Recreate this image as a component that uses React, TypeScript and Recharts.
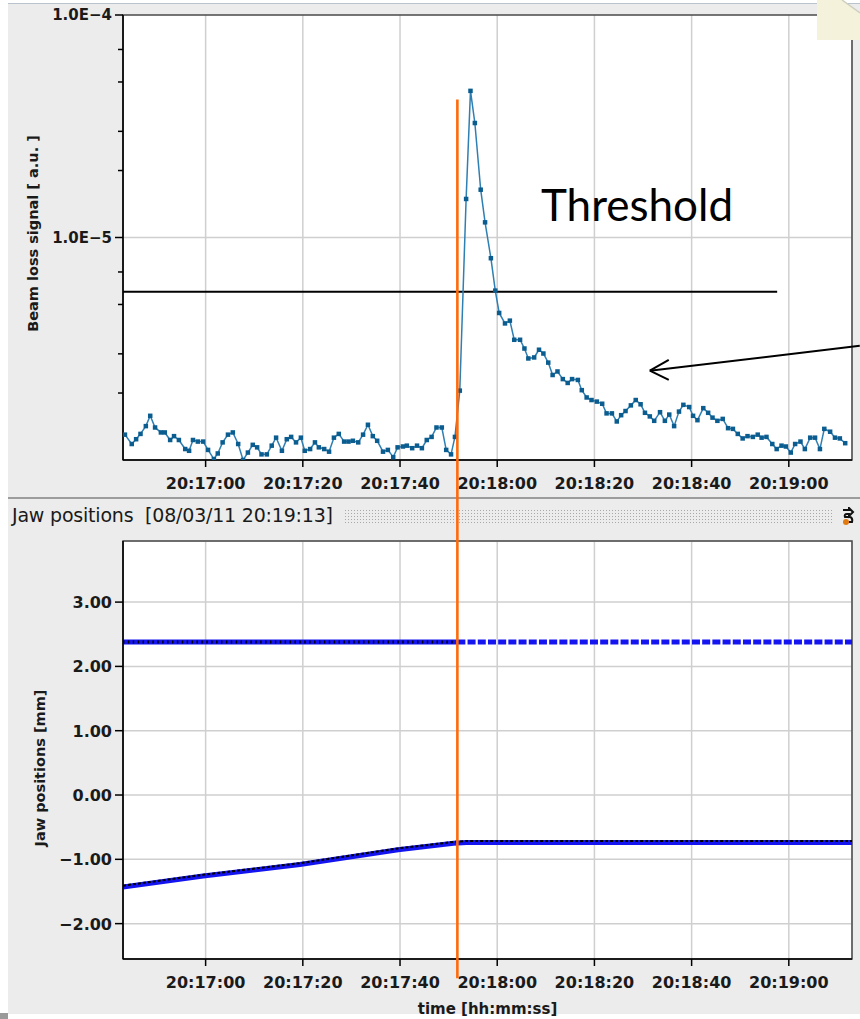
import { LineChart, Line, XAxis, YAxis, CartesianGrid, ReferenceLine, ReferenceArea } from 'recharts';

// time axis: seconds after 20:16:43, window ends 20:19:13
const START_SEC = 20 * 3600 + 16 * 60 + 43;
const SPAN = 150;
const timeTicks = [17, 37, 57, 77, 97, 117, 137];

// beam loss monitor samples (seconds, value in 1e-6 a.u.)
const lossTimes = [
  0.4, 1.8, 2.7, 3.6, 4.7, 5.6, 6.6, 7.8, 8.6, 9.7,
  10.5, 11.5, 12.8, 13.6, 14.4, 15.4, 16.5, 17.5, 18.7, 19.5,
  20.5, 21.6, 22.6, 23.7, 24.7, 25.7, 26.7, 27.6, 28.5, 29.6,
  30.6, 31.5, 32.7, 33.7, 34.6, 35.6, 36.6, 37.4, 38.5, 39.5,
  40.3, 41.4, 42.4, 43.4, 44.4, 45.5, 46.4, 47.3, 48.4, 49.4,
  50.4, 51.4, 52.3, 53.5, 54.5, 55.6, 56.5, 57.6, 58.4, 59.5,
  60.5, 61.5, 62.5, 63.5, 64.5, 65.6, 66.5, 67.5, 68.3,
  69.3, 70.6, 71.5, 72.4, 73.6, 74.5, 75.7, 76.6, 77.4, 78.6,
  79.6, 80.5, 81.7, 82.6, 83.4, 84.6, 85.6, 86.5, 87.5, 88.4,
  89.4, 90.5, 91.5, 92.4, 93.6, 94.4, 95.4, 96.4, 97.5, 98.6,
  99.5, 100.6, 101.6, 102.5, 103.4, 104.5, 105.5, 106.5, 107.4, 108.4,
  109.3, 110.5, 111.5, 112.4, 113.4, 114.4, 115.3, 116.5, 117.3, 118.2,
  119.4, 120.4, 121.3, 122.3, 123.4, 124.5, 125.5, 126.5, 127.5, 128.5,
  129.6, 130.6, 131.4, 132.4, 133.6, 134.5, 135.5, 136.4, 137.4, 138.3,
  139.4, 140.3, 141.4, 142.4, 143.4, 144.3, 145.5, 146.5, 147.5, 148.6,
];
const lossValuesE6 = [
  1.30, 1.18, 1.24, 1.31, 1.42, 1.58, 1.40, 1.33, 1.33, 1.23,
  1.28, 1.23, 1.12, 1.10, 1.23, 1.21, 1.21, 1.11, 1.01, 1.07,
  1.20, 1.30, 1.33, 1.18, 1.00, 1.08, 1.17, 1.14, 1.06, 1.06,
  1.16, 1.26, 1.10, 1.24, 1.27, 1.20, 1.26, 1.10, 1.12, 1.20,
  1.14, 1.12, 1.09, 1.26, 1.31, 1.21, 1.21, 1.22, 1.20, 1.30,
  1.44, 1.28, 1.22, 1.09, 1.11, 1.03, 1.14, 1.15, 1.16, 1.13,
  1.16, 1.13, 1.23, 1.27, 1.40, 1.40, 1.11, 1.06, 1.27,
  2.05, 14.9, 45.6, 32.7, 16.4, 11.7, 8.07, 5.77, 4.58, 4.11,
  4.23, 3.47, 3.47, 3.17, 2.86, 2.89, 3.13, 3.01, 2.74, 2.41,
  2.50, 2.31, 2.22, 2.31, 2.29, 2.06, 1.91, 1.86, 1.83, 1.79,
  1.62, 1.62, 1.49, 1.59, 1.66, 1.76, 1.86, 1.78, 1.63, 1.57,
  1.50, 1.64, 1.50, 1.60, 1.42, 1.65, 1.77, 1.73, 1.58, 1.51,
  1.71, 1.63, 1.55, 1.50, 1.53, 1.39, 1.38, 1.31, 1.25, 1.28,
  1.27, 1.30, 1.26, 1.27, 1.18, 1.12, 1.16, 1.15, 1.08, 1.18,
  1.21, 1.12, 1.26, 1.26, 1.12, 1.38, 1.34, 1.26, 1.25, 1.19,
];
const lossTicks = [
  2e-6, 3e-6, 4e-6, 5e-6, 6e-6, 7e-6, 8e-6, 9e-6, 1e-5,
  2e-5, 3e-5, 4e-5, 5e-5, 6e-5, 7e-5, 8e-5, 9e-5, 1e-4,
];
const THRESHOLD = 5.7e-6;
const THRESHOLD_END = 134.6;

// arrow pointing at the decay tail: [t, value] pairs
const arrowShaft = [[108.4, 2.52e-6], [151.6, 3.26e-6]];
const arrowBarbs = [[112.3, 2.82e-6], [112.3, 2.29e-6]];

// collimator jaw positions (mm)
const upperJawTimes = [0, 68.8, 150];
const upperJawPos = [2.38, 2.38, 2.38];
const lowerJawTimes = [0, 16.5, 36.4, 56.6, 68, 70.7, 150];
const lowerJawPos = [-1.43, -1.26, -1.08, -0.85, -0.75, -0.74, -0.74];
const lowerJawSet = [-1.41, -1.24, -1.06, -0.83, -0.73, -0.715, -0.715];
const jawTicks = [-2, -1, 0, 1, 2, 3];

// moment the jaw movement stopped
const EVENT_T = 68.8;
const EVENT_TOP = 4.17e-5;
const EVENT_BOTTOM = -2.85;

const FONT = '"DejaVu Sans", Verdana, sans-serif';
const PLOT_LEFT = 123;
const PLOT_RIGHT = 852;
const TOP_PLOT = [15, 460];
const BOT_PLOT = [541, 959];
const LOSS_DOMAIN = [1e-6, 1e-4];
const JAW_DOMAIN = [-2.55, 3.95];

const lossData = lossTimes.map((t, i) => ({ t, v: lossValuesE6[i] * 1e-6 }));
const upperJaw = upperJawTimes.map((t, i) => ({ t, v: upperJawPos[i] }));
const upperBefore = upperJaw.filter((d) => d.t <= EVENT_T);
const upperAfter = upperJaw.filter((d) => d.t >= EVENT_T);
const lowerJaw = lowerJawTimes.map((t, i) => ({ t, v: lowerJawPos[i], s: lowerJawSet[i] }));

const xPix = (t: number) => PLOT_LEFT + (t / SPAN) * (PLOT_RIGHT - PLOT_LEFT);
const lossPix = (v: number) =>
  TOP_PLOT[0] +
  ((Math.log10(LOSS_DOMAIN[1]) - Math.log10(v)) / (Math.log10(LOSS_DOMAIN[1]) - Math.log10(LOSS_DOMAIN[0]))) *
    (TOP_PLOT[1] - TOP_PLOT[0]);
const jawPix = (v: number) =>
  BOT_PLOT[0] + ((JAW_DOMAIN[1] - v) / (JAW_DOMAIN[1] - JAW_DOMAIN[0])) * (BOT_PLOT[1] - BOT_PLOT[0]);

function hhmmss(t: number) {
  const s = START_SEC + Math.round(t);
  const h = Math.floor(s / 3600);
  const m = Math.floor((s % 3600) / 60);
  const sec = s % 60;
  return `${h}:${String(m).padStart(2, '0')}:${String(sec).padStart(2, '0')}`;
}

function TimeTick({ x, y, payload }: any) {
  return (
    <g>
      <line x1={x} y1={y} x2={x} y2={y + 7} stroke="#000" strokeWidth={1.5} />
      <text x={x} y={y + 29} textAnchor="middle" fontFamily={FONT} fontWeight="bold" fontSize={16} fill="#1a1a1a">
        {hhmmss(payload.value)}
      </text>
    </g>
  );
}

function LossTick({ x, y, payload }: any) {
  const lg = Math.log10(payload.value);
  const major = Math.abs(lg - Math.round(lg)) < 1e-6;
  return (
    <g>
      <line x1={x - (major ? 8 : 5)} y1={y} x2={x} y2={y} stroke="#000" strokeWidth={1.5} />
      {major && (
        <text x={x - 11} y={y + 5} textAnchor="end" fontFamily={FONT} fontWeight="bold" fontSize={15} fill="#1a1a1a">
          {`1.0E\u2212${-Math.round(lg)}`}
        </text>
      )}
    </g>
  );
}

function JawTick({ x, y, payload }: any) {
  const txt = payload.value.toFixed(2).replace('-', '\u2212');
  return (
    <g>
      <line x1={x - 8} y1={y} x2={x} y2={y} stroke="#000" strokeWidth={1.5} />
      <text x={x - 11} y={y + 6} textAnchor="end" fontFamily={FONT} fontWeight="bold" fontSize={16} fill="#1a1a1a">
        {txt}
      </text>
    </g>
  );
}

const yTitle = (text: string, cx: number, dy: number) => (props: any) => {
  const vb = props.viewBox;
  const cy = vb.y + vb.height / 2 + dy;
  return (
    <text x={cx} y={cy} transform={`rotate(-90 ${cx} ${cy})`} textAnchor="middle" dominantBaseline="central"
      fontFamily={FONT} fontWeight="bold" fontSize={14.5} fill="#1a1a1a">
      {text}
    </text>
  );
};

const squareDot = (color: string, size: number) => (p: any) => (
  <rect key={`sq-${p.index}`} x={p.cx - size / 2} y={p.cy - size / 2} width={size} height={size} fill={color} />
);

function BeamLossChart() {
  return (
    <LineChart width={860} height={497} data={lossData} margin={{ top: TOP_PLOT[0], right: 860 - PLOT_RIGHT, bottom: 0, left: 0 }}>
      <CartesianGrid fill="#fff" stroke="#cfcfcf" strokeWidth={1.5} horizontalValues={[1e-5]} />
      <ReferenceArea x1={0} x2={SPAN} y1={LOSS_DOMAIN[0]} y2={LOSS_DOMAIN[1]} fill="none" stroke="#4a4a4a" strokeWidth={1.5} ifOverflow="visible" />
      <XAxis dataKey="t" type="number" domain={[0, SPAN]} ticks={timeTicks} height={497 - TOP_PLOT[1]}
        tickSize={0} tickMargin={0} tickLine={false} tick={<TimeTick />} axisLine={{ stroke: '#000', strokeWidth: 1.5 }} allowDataOverflow />
      <YAxis type="number" scale="log" domain={LOSS_DOMAIN} ticks={lossTicks} width={PLOT_LEFT} allowDataOverflow
        tickSize={0} tickMargin={0} tickLine={false} tick={<LossTick />} axisLine={{ stroke: '#000', strokeWidth: 1.5 }}
        label={yTitle('Beam loss signal [ a.u. ]', 33, -4)} />
      <ReferenceLine segment={[{ x: 0, y: THRESHOLD }, { x: THRESHOLD_END, y: THRESHOLD }]} stroke="#000" strokeWidth={2} ifOverflow="visible" />
      <Line dataKey="v" stroke="#2f7fb3" strokeWidth={1.5} dot={squareDot('#0b5d90', 4.5)} isAnimationActive={false} />
      <ReferenceLine segment={[{ x: arrowShaft[0][0], y: arrowShaft[0][1] }, { x: arrowShaft[1][0], y: arrowShaft[1][1] }]} stroke="#000" strokeWidth={2} ifOverflow="visible" />
      {arrowBarbs.map((b, i) => (
        <ReferenceLine key={`barb-${i}`} segment={[{ x: arrowShaft[0][0], y: arrowShaft[0][1] }, { x: b[0], y: b[1] }]} stroke="#000" strokeWidth={2} ifOverflow="visible" />
      ))}
    </LineChart>
  );
}

function JawChart() {
  const height = 1019 - 530;
  return (
    <LineChart width={860} height={height} margin={{ top: BOT_PLOT[0] - 530, right: 860 - PLOT_RIGHT, bottom: 0, left: 0 }}>
      <CartesianGrid fill="#fff" stroke="#cfcfcf" strokeWidth={1.5} />
      <ReferenceArea x1={0} x2={SPAN} y1={JAW_DOMAIN[0]} y2={JAW_DOMAIN[1]} fill="none" stroke="#4a4a4a" strokeWidth={1.5} ifOverflow="visible" />
      <XAxis dataKey="t" type="number" domain={[0, SPAN]} ticks={timeTicks} height={530 + height - BOT_PLOT[1]}
        tickSize={0} tickMargin={0} tickLine={false} tick={<TimeTick />} axisLine={{ stroke: '#000', strokeWidth: 1.5 }} allowDataOverflow
        label={(props: any) => {
          const vb = props.viewBox;
          return (
            <text x={vb.x + vb.width / 2} y={vb.y + 55} textAnchor="middle" fontFamily={FONT} fontWeight="bold" fontSize={15} fill="#1a1a1a">
              time [hh:mm:ss]
            </text>
          );
        }} />
      <YAxis type="number" domain={JAW_DOMAIN} ticks={jawTicks} width={PLOT_LEFT} allowDataOverflow
        tickSize={0} tickMargin={0} tickLine={false} tick={<JawTick />} axisLine={{ stroke: '#000', strokeWidth: 1.5 }}
        label={yTitle('Jaw positions [mm]', 40, 18)} />
      <Line data={upperBefore} dataKey="v" stroke="#1414f0" strokeWidth={5} dot={false} isAnimationActive={false} />
      <Line data={upperBefore} dataKey="v" stroke="#000" strokeWidth={3} strokeDasharray="1.4 3.5" dot={false} isAnimationActive={false} />
      <Line data={upperAfter} dataKey="v" stroke="#1414f0" strokeWidth={5} strokeDasharray="8 2.2" dot={false} isAnimationActive={false} />
      <Line data={lowerJaw} dataKey="v" stroke="#1414f0" strokeWidth={5} dot={false} isAnimationActive={false} />
      <Line data={lowerJaw} dataKey="s" stroke="#000" strokeWidth={2} strokeDasharray="3 2" dot={false} isAnimationActive={false} />
    </LineChart>
  );
}

function Toolbar() {
  return (
    <div style={{ position: 'absolute', left: 8, top: 497, width: 852, height: 33, borderTop: '2.5px solid #9c9c9c', background: '#ececec' }}>
      <div style={{ position: 'absolute', left: 4, top: 5, fontFamily: FONT, fontSize: 19, color: '#1a1a1a', whiteSpace: 'pre', letterSpacing: -0.2 }}>
        {'Jaw positions  [08/03/11 20:19:13]'}
      </div>
      <div style={{
        position: 'absolute', left: 336, top: 10, width: 488, height: 16,
        backgroundImage: 'radial-gradient(circle, #a8a8a8 0.8px, transparent 1px)', backgroundSize: '3px 3px',
      }} />
      <svg style={{ position: 'absolute', left: 832, top: 8 }} width={16} height={20}>
        <path d="M3 3 L9 3 L9 1 L13 5 L9 9 L9 7 L7 7 Q4 7 5 10 L10 10 Q13 11 12 15 L9 15" fill="none" stroke="#111" strokeWidth={2} />
        <circle cx={6} cy={15} r={3} fill="#e07a10" />
      </svg>
    </div>
  );
}

export default function App() {
  return (
    <div style={{ position: 'absolute', left: 0, top: 0, width: 860, height: 1019, background: '#fff', overflow: 'hidden' }}>
      <div style={{ position: 'absolute', left: 8, top: 3, width: 852, height: 1010, background: '#ececec', borderTop: '1.5px solid #b9c3ce' }} />
      <div style={{ position: 'absolute', left: 0, top: 1013, width: 8, height: 6, background: '#9a9a9a' }} />
      <div style={{ position: 'absolute', left: 0, top: 0 }}>
        <BeamLossChart />
      </div>
      <Toolbar />
      <div style={{ position: 'absolute', left: 0, top: 530 }}>
        <JawChart />
      </div>
      <svg style={{ position: 'absolute', left: 0, top: 0, pointerEvents: 'none' }} width={860} height={1019}>
        <polygon points="817,0 842,0 860,13 860,40 817,40" fill="#f4f2da" />
        <line x1={842} y1={0} x2={860} y2={13} stroke="#cfcfc0" strokeWidth={1.5} />
        <text x={541} y={221} fontFamily="Lato, 'Open Sans', sans-serif" fontSize={44} fill="#000">Threshold</text>
        <line x1={xPix(EVENT_T)} y1={lossPix(EVENT_TOP)} x2={xPix(EVENT_T)} y2={jawPix(EVENT_BOTTOM)} stroke="#ff6a0a" strokeWidth={2.6} />
      </svg>
    </div>
  );
}
